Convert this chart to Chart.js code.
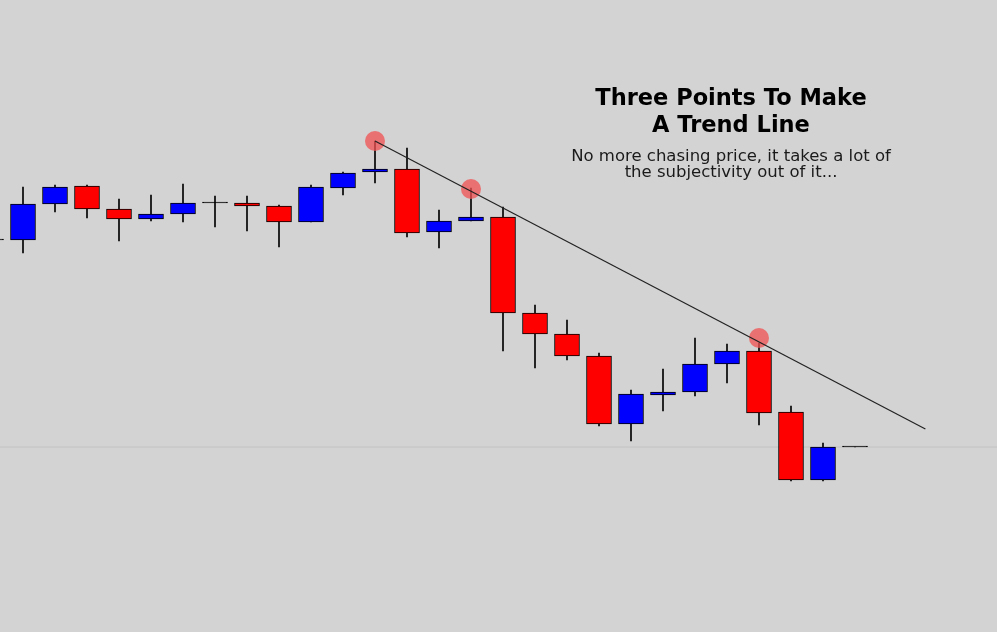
<!DOCTYPE html>
<html>
<head>
<meta charset="utf-8">
<script src="https://cdn.jsdelivr.net/npm/chart.js@4/dist/chart.umd.min.js"></script>
<style>
	html, body { margin: 0; padding: 0; background: #d3d3d3; overflow: hidden; }
	canvas { display: block; }
</style>
</head>
<body>
<canvas id="myChart" width="997" height="632"></canvas>
<script>
// candle index, first one is cut off at the left edge
const idx = [-1, 0, 1, 2, 3, 4, 5, 6, 7, 8, 9, 10, 11, 12, 13, 14, 15, 16, 17, 18, 19, 20, 21, 22, 23, 24, 25, 26]
const open = [1.1392, 1.1392, 1.1428, 1.1446, 1.1423, 1.1413, 1.1418, 1.1429, 1.1429, 1.1426, 1.1410, 1.1444, 1.1460, 1.1463, 1.1400, 1.1411, 1.1415, 1.1319, 1.1298, 1.1276, 1.1208, 1.1237, 1.1240, 1.1268, 1.1281, 1.1220, 1.1152, 1.1185]
const high = [1.1392, 1.1445, 1.1447, 1.1447, 1.1433, 1.1437, 1.1448, 1.1436, 1.1436, 1.1427, 1.1447, 1.1460, 1.1491, 1.1484, 1.1422, 1.1444, 1.1425, 1.1327, 1.1312, 1.1279, 1.1242, 1.1263, 1.1294, 1.1288, 1.1289, 1.1226, 1.1189, 1.1185]
const low = [1.1392, 1.1379, 1.1420, 1.1414, 1.1391, 1.1411, 1.1410, 1.1405, 1.1401, 1.1385, 1.1410, 1.1437, 1.1449, 1.1395, 1.1384, 1.1411, 1.1281, 1.1264, 1.1272, 1.1206, 1.1191, 1.1221, 1.1236, 1.1249, 1.1207, 1.1151, 1.1151, 1.1185]
const close = [1.1392, 1.1428, 1.1445, 1.1423, 1.1413, 1.1418, 1.1429, 1.1429, 1.1426, 1.1410, 1.1445, 1.1459, 1.1463, 1.1399, 1.1411, 1.1415, 1.1319, 1.1298, 1.1276, 1.1208, 1.1238, 1.1240, 1.1268, 1.1281, 1.1219, 1.1152, 1.1185, 1.1185]

// the three touches and the line drawn through them
const touchX = [11, 14, 23]
const touchY = [1.1491, 1.1443, 1.1294]
const trendX = [11, 28.2]
const trendY = [1.1491, 1.1203]
const lastPrice = 1.1185

const titleLines = ['Three Points To Make', 'A Trend Line']
const subLines = ['No more chasing price, it takes a lot of', 'the subjectivity out of it...']

const colorFor = (i) => {
	if (open[i] === close[i]) return '#000000'
	return close[i] > open[i] ? '#0000ff' : '#ff0000'
}

const textPlugin = {
	id: 'textBox',
	afterDraw(chart) {
		const c = chart.ctx
		c.save()
		c.textAlign = 'center'
		c.fillStyle = '#000'
		c.font = 'bold 22.5px "DejaVu Sans"'
		c.fillText(titleLines[0], 731, 105)
		c.fillText(titleLines[1], 731, 132)
		c.fillStyle = '#1a1a1a'
		c.font = '16.5px "DejaVu Sans"'
		c.fillText(subLines[0], 731, 161)
		c.fillText(subLines[1], 731, 177)
		c.restore()
	},
}

const ctx = document.getElementById('myChart').getContext('2d')
const myChart = new Chart(ctx, {
	type: 'bar',
	data: {
		datasets: [
			{
				type: 'bar',
				label: 'body',
				data: idx.map((x, i) => ({ x: x, y: [open[i], close[i]] })),
				backgroundColor: idx.map((x, i) => colorFor(i)),
				borderColor: '#000',
				borderWidth: 1,
				borderSkipped: false,
				barThickness: 25,
				minBarLength: 1,
				grouped: false,
				order: 2,
			},
			{
				type: 'bar',
				label: 'wick',
				data: idx.map((x, i) => ({ x: x, y: [low[i], high[i]] })),
				backgroundColor: '#000',
				borderWidth: 0,
				barThickness: 1,
				grouped: false,
				order: 3,
			},
			{
				type: 'line',
				label: 'trend',
				data: trendX.map((x, i) => ({ x: x, y: trendY[i] })),
				borderColor: '#222',
				borderWidth: 1.2,
				pointRadius: 0,
				order: 0,
			},
			{
				type: 'scatter',
				label: 'touch',
				data: touchX.map((x, i) => ({ x: x, y: touchY[i] })),
				backgroundColor: 'rgba(240, 80, 80, 0.75)',
				borderWidth: 0,
				pointRadius: 10,
				order: 1,
			},
			{
				type: 'line',
				label: 'price',
				data: [{ x: -1, y: lastPrice }, { x: 31, y: lastPrice }],
				borderColor: '#c2c2c2',
				borderWidth: 1,
				pointRadius: 0,
				order: 5,
			},
		],
	},
	options: {
		responsive: false,
		animation: false,
		layout: { padding: 0, autoPadding: false },
		scales: {
			x: { type: 'linear', min: -0.71875, max: 30.4375, offset: false, display: false },
			y: { type: 'linear', min: 1.1, max: 1.1632, display: false },
		},
		plugins: {
			legend: { display: false },
			tooltip: { enabled: false },
		},
	},
	plugins: [textPlugin],
})
</script>
</body>
</html>
